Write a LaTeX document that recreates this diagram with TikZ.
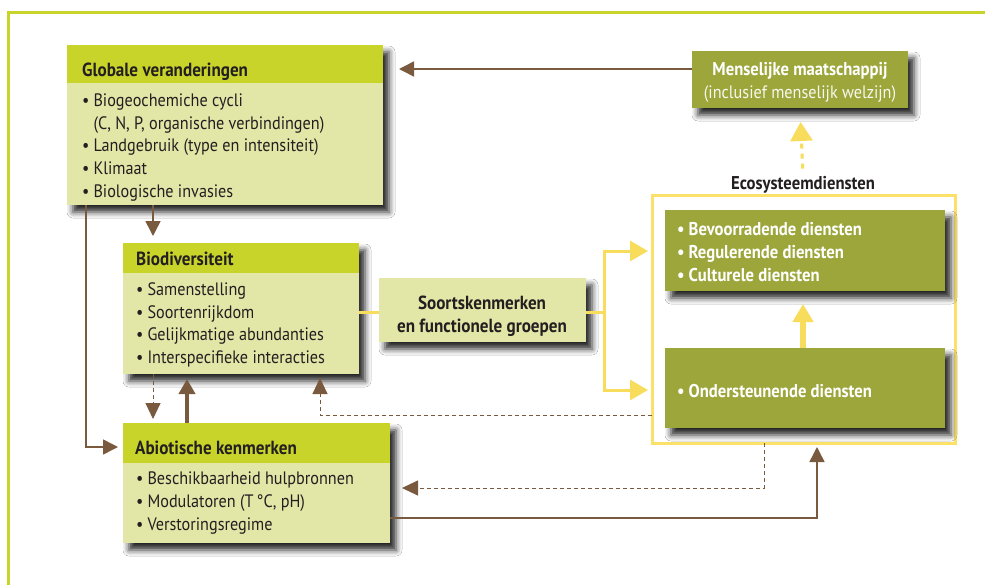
\documentclass[tikz,border=0pt]{standalone}
\usepackage{fontspec}
\setmainfont{PT Sans}[FakeStretch=0.9]
\usetikzlibrary{arrows.meta,shadows.blur}
\definecolor{hdr}{HTML}{C8D42A}
\definecolor{bodyc}{HTML}{E2E7A8}
\definecolor{olive}{HTML}{9CA63A}
\definecolor{brn}{HTML}{7A5A3E}
\definecolor{ylw}{HTML}{F8DC5C}
\definecolor{frameY}{HTML}{FBE168}
\definecolor{txt}{HTML}{231F20}
\newcommand\bul{\textbullet\hspace{4pt}}
\tikzset{
  shad/.style={blur shadow={shadow xshift=6pt, shadow yshift=-7pt, shadow blur radius=6pt, shadow opacity=85}},
  lightbox/.style={fill=bodyc, shad, anchor=north west, inner sep=0pt, outer sep=0pt},
  olivebox/.style={fill=olive, shad, anchor=north west, inner sep=0pt, outer sep=0pt},
  headtxt/.style={font=\fontsize{19}{23}\selectfont\bfseries, text=txt, anchor=base west, inner sep=0pt},
  listtxt/.style={font=\fontsize{18}{22.6}\selectfont, text=txt, anchor=base west, inner sep=0pt, align=left},
  whitebold/.style={font=\fontsize{18.5}{23}\selectfont\bfseries, text=white, inner sep=0pt},
  whitereg/.style={font=\fontsize{18}{23}\selectfont, text=white!92!olive, inner sep=0pt},
  brownline/.style={draw=brn, line width=1.5pt},
  brownarr/.style={brownline, -{Triangle[width=15pt,length=15pt]}},
  browndash/.style={draw=brn, line width=1pt, dash pattern=on 4pt off 3pt, -{Triangle[width=15pt,length=16pt]}},
  thickarr/.style={draw=brn, line width=4pt, -{Triangle[width=16pt,length=15pt]}},
  ylwline/.style={draw=ylw, line width=3pt},
  ylwarr/.style={ylwline, -{Triangle[width=20pt,length=18pt]}},
  ylwthick/.style={draw=ylw, line width=6pt, -{Triangle[width=20pt,length=18pt]}},
  ylwdash/.style={draw=ylw, line width=3pt, dash pattern=on 5pt off 5pt, -{Triangle[width=22pt,length=19pt]}},
}
\begin{document}
\begin{tikzpicture}[x=1pt,y=-1pt]
\useasboundingbox (0,0) rectangle (985,584);
\fill[white] (0,0) rectangle (985,584);
% outer frame
\draw[hdr, line width=3pt] (8.5,600) -- (8.5,12.5) -- (1000,12.5);

% column / row helper coordinates
\coordinate (x86) at (86,0);
\coordinate (x153) at (153,0);
\coordinate (x187) at (187,0);
\coordinate (x320) at (320,0);
\coordinate (x604) at (604,0);
\coordinate (x764) at (764,0);
\coordinate (x803) at (803,0);
\coordinate (x817) at (817,0);
\coordinate (y69) at (0,69);
\coordinate (y251) at (0,251);
\coordinate (y312) at (0,312);
\coordinate (y390) at (0,390);
\coordinate (y415) at (0,415);
\coordinate (y447) at (0,447);
\coordinate (y488) at (0,488);
\coordinate (y518) at (0,518);

% Globale veranderingen
\node[lightbox, minimum width=316pt, minimum height=160pt] (glob) at (67,45) {};
\fill[hdr] (glob.north west) rectangle ([yshift=-38pt]glob.north east);
\node[headtxt] (globT) at (82,76) {Globale veranderingen};
\node[listtxt] (globL) at (82,197) {\bul Biogeochemiche cycli\\
\phantom{\bul}(C, N, P, organische verbindingen)\\
\bul Landgebruik (type en intensiteit)\\
\bul Klimaat\\
\bul Biologische invasies};

% Biodiversiteit
\node[lightbox, minimum width=236pt, minimum height=131pt] (bio) at (123,243) {};
\fill[hdr] (bio.north west) rectangle ([yshift=-30pt]bio.north east);
\node[headtxt] (bioT) at (136,265) {Biodiversiteit};
\node[listtxt] (bioL) at (136,363.5) {\bul Samenstelling\\
\bul Soortenrijkdom\\
\bul Gelijkmatige abundanties\\
\bul Interspecifieke interacties};

% Abiotische kenmerken
\node[lightbox, minimum width=267pt, minimum height=120pt] (abio) at (123,423) {};
\fill[hdr] (abio.north west) rectangle ([yshift=-40pt]abio.north east);
\node[headtxt] (abioT) at (135,454) {Abiotische kenmerken};
\node[listtxt, font=\fontsize{18}{23}\selectfont] (abioL) at (136,530) {\bul Beschikbaarheid hulpbronnen\\
\bul Modulatoren (T\,°C, pH)\\
\bul Verstoringsregime};

% Soortskenmerken
\node[lightbox, minimum width=207pt, minimum height=64pt] (soort) at (379,278) {};
\node[headtxt, anchor=base] (soortT1) at (482,309) {Soortskenmerken};
\node[headtxt, anchor=base] (soortT2) at (482,332) {en functionele groepen};

% Menselijke maatschappij
\node[olivebox, minimum width=216pt, minimum height=57pt] (mens) at (692,51) {};
\node[whitebold, anchor=base] (mensT1) at (800,75) {Menselijke maatschappij};
\node[whitereg, anchor=base] (mensT2) at (800,98) {(inclusief menselijk welzijn)};

% Ecosysteemdiensten
\node[text=txt, font=\fontsize{18.5}{23}\selectfont\bfseries, inner sep=0pt, anchor=base] (ecolab) at (803,189) {Ecosysteemdiensten};
\node[draw=frameY, line width=3pt, minimum width=303pt, minimum height=248pt, anchor=north west, inner sep=0pt, outer sep=0pt] (eco) at (652,195) {};
\node[olivebox, minimum width=280pt, minimum height=81pt] (serv) at (665,210) {};
\node[whitebold, anchor=base west, align=left, font=\fontsize{18.5}{23.3}\selectfont\bfseries] (servT) at (677,281.6) {\bul Bevoorradende diensten\\
\bul Regulerende diensten\\
\bul Culturele diensten};
\node[olivebox, minimum width=280pt, minimum height=80pt] (onder) at (665,348) {};
\node[whitebold, anchor=base west] (onderT) at (677,397) {\bul Ondersteunende diensten};

% brown connectors
\draw[brownarr, shorten >=16pt] (mens.west |- y69) -- (glob.east |- y69);
\draw[brownarr, shorten >=7pt] (glob.south -| x153) -- (bio.north -| x153);
\draw[brownarr, shorten >=5pt] (glob.south -| x86) |- (abio.west |- y447);
\draw[browndash, shorten >=4pt] (bio.south -| x153) -- (abio.north -| x153);
\draw[thickarr, shorten >=5pt] (abio.north -| x187) -- (bio.south -| x187);
\draw[browndash, shorten >=4pt] (eco.west |- y415) -| (bio.south -| x320);
\draw[browndash, shorten >=12pt] (eco.south -| x764) |- (abio.east |- y488);
\draw[brownarr, shorten >=4pt] (abio.east |- y518) -| (eco.south -| x817);

% yellow connectors
\draw[ylwline] (bio.east |- y312) -- (soort.west |- y312);
\draw[ylwarr, shorten >=4pt] (soort.east |- y312) -- (x604 |- y312) |- (eco.west |- y251);
\draw[ylwarr, shorten >=4pt] (soort.east |- y312) -- (x604 |- y312) |- (eco.west |- y390);
\draw[ylwthick, shorten >=13pt] (onder.north -| x803) -- (serv.south -| x803);
\draw[ylwdash, shorten <=7pt, shorten >=14pt] (ecolab.north) -- (mens.south);
\end{tikzpicture}
\end{document}
